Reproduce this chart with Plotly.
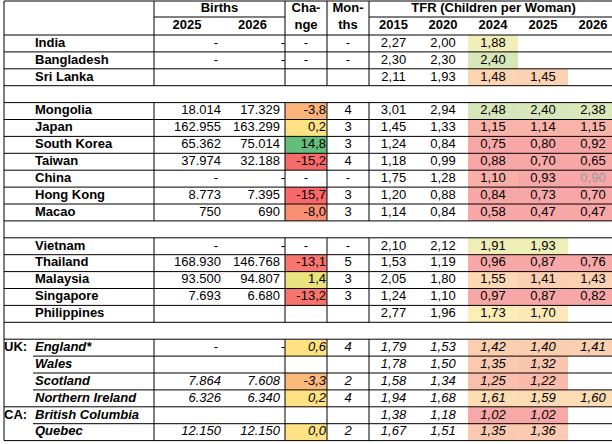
import plotly.graph_objects as go

# Table values (None = empty cell, "-" = dash)
countries = ["India", "Bangladesh", "Sri Lanka", None,
             "Mongolia", "Japan", "South Korea", "Taiwan", "China", "Hong Kong", "Macao", None,
             "Vietnam", "Thailand", "Malaysia", "Singapore", "Philippines", None,
             "England*", "Wales", "Scotland", "Northern Ireland", "British Columbia", "Quebec"]
regions = [None] * 18 + ["UK:", "UK:", "UK:", "UK:", "CA:", "CA:"]

births_2025 = ["-", "-", None, None, 18014, 162955, 65362, 37974, "-", 8773, 750, None,
               "-", 168930, 93500, 7693, None, None, "-", None, 7864, 6326, None, 12150]
births_2026 = ["-", "-", None, None, 17329, 163299, 75014, 32188, "-", 7395, 690, None,
               "-", 146768, 94807, 6680, None, None, "-", None, 7608, 6340, None, 12150]
change = ["-", "-", None, None, -3.8, 0.2, 14.8, -15.2, "-", -15.7, -8.0, None,
          "-", -13.1, 1.4, -13.2, None, None, 0.6, None, -3.3, 0.2, None, 0.0]
months = ["-", "-", None, None, 4, 3, 3, 4, "-", 3, 3, None,
          "-", 5, 3, 3, None, None, 4, None, 2, 4, None, 2]

tfr_years = ["2015", "2020", "2024", "2025", "2026"]
tfr_2015 = [2.27, 2.30, 2.11, None, 3.01, 1.45, 1.24, 1.18, 1.75, 1.20, 1.14, None,
            2.10, 1.53, 2.05, 1.24, 2.77, None, 1.79, 1.78, 1.58, 1.94, 1.38, 1.67]
tfr_2020 = [2.00, 2.30, 1.93, None, 2.94, 1.33, 0.84, 0.99, 1.28, 0.88, 0.84, None,
            2.12, 1.19, 1.80, 1.10, 1.96, None, 1.53, 1.50, 1.34, 1.68, 1.18, 1.51]
tfr_2024 = [1.88, 2.40, 1.48, None, 2.48, 1.15, 0.75, 0.88, 1.10, 0.84, 0.58, None,
            1.91, 0.96, 1.55, 0.97, 1.73, None, 1.42, 1.35, 1.25, 1.61, 1.02, 1.35]
tfr_2025 = [None, None, 1.45, None, 2.40, 1.14, 0.80, 0.70, 0.93, 0.73, 0.47, None,
            1.93, 0.87, 1.41, 0.87, 1.70, None, 1.40, 1.32, 1.22, 1.59, 1.02, 1.36]
tfr_2026 = [None, None, None, None, 2.38, 1.15, 0.92, 0.65, 0.90, 0.70, 0.47, None,
            None, 0.76, 1.43, 0.82, None, None, 1.41, None, None, 1.60, None, None]
grey_2026 = ["China"]

# ---- sheet geometry (pixels) ----
W, H = 612, 444
LEFT, TOP, HEAD_MID, HEAD_BOT = 4, 1, 17, 35
ROW_H = 16.9
X_NAME, X_REGION, X_SUB = 37, 6, 33
C_BIRTHS, C_B_MID, C_CHANGE, C_MONTHS, C_TFR = 154, 220, 285, 327, 369
TFR_EDGES = [369, 418, 468, 518, 568, 618]

n = len(countries)
edges = [HEAD_BOT + ROW_H * k for k in range(n + 1)]
mids = [(edges[k] + edges[k + 1]) / 2 for k in range(n)]
FONT = "Liberation Sans, Arial, sans-serif"


def num(v):
    return v if isinstance(v, (int, float)) else None


def it(s, k):
    return f"<i>{s}</i>" if regions[k] else s


fig = go.Figure()

# conditional-format fills
change_scale = [[0, "#F8696B"], [0.25, "#F98E72"], [0.39, "#FAB47A"], [0.515, "#FEE283"],
                [0.535, "#FFE383"], [0.56, "#E8E37F"], [1, "#63BE7B"]]
fig.add_trace(go.Heatmap(
    x=[C_CHANGE, C_MONTHS], y=edges, z=[[num(v)] for v in change],
    colorscale=change_scale, zmin=-15.7, zmax=14.8, showscale=False, hoverinfo="skip"))

tfr_scale = [[0, "#F8A7A7"], [0.1, "#F9B3A9"], [0.28, "#FBCFB1"], [0.42, "#FCDDB4"],
             [0.52, "#FDF0B8"], [0.62, "#EFEEB7"], [1, "#D6E6B9"]]
fig.add_trace(go.Heatmap(
    x=TFR_EDGES[2:], y=edges, z=[[a, b, c] for a, b, c in zip(tfr_2024, tfr_2025, tfr_2026)],
    colorscale=tfr_scale, zmin=1.0, zmax=2.45, showscale=False, hoverinfo="skip"))


def add_text(xs, ys, texts, pos, color="black"):
    fig.add_trace(go.Scatter(x=xs, y=ys, text=texts, mode="text", textposition=pos,
                             textfont=dict(family=FONT, size=13, color=color),
                             hoverinfo="skip", showlegend=False))


# header
add_text([(C_BIRTHS + C_CHANGE) / 2, (C_CHANGE + C_MONTHS) / 2, (C_MONTHS + C_TFR) / 2,
          (TFR_EDGES[0] + TFR_EDGES[-1]) / 2],
         [9, 9, 9, 9], ["<b>Births</b>", "<b>Cha-</b>", "<b>Mon-</b>", "<b>TFR (Children per Woman)</b>"],
         "middle center")
hx = [(C_BIRTHS + C_B_MID) / 2, (C_B_MID + C_CHANGE) / 2, (C_CHANGE + C_MONTHS) / 2,
      (C_MONTHS + C_TFR) / 2] + [(TFR_EDGES[i] + TFR_EDGES[i + 1]) / 2 for i in range(5)]
add_text(hx, [26] * len(hx), ["<b>2025</b>", "<b>2026</b>", "<b>nge</b>", "<b>ths</b>"]
         + [f"<b>{y}</b>" for y in tfr_years], "middle center")

# first column
rows = [k for k in range(n) if countries[k]]
add_text([X_NAME - 2] * len(rows), [mids[k] for k in rows],
         [it(f"<b>{countries[k]}</b>", k) for k in rows], "middle right")
first = [k for k in rows if regions[k] and (k == 0 or regions[k - 1] != regions[k])]
add_text([X_REGION - 2] * len(first), [mids[k] for k in first],
         [f"<b>{regions[k]}</b>" for k in first], "middle right")

# births
for vals, right, dash_x in [(births_2025, 221, 216), (births_2026, 280, 283)]:
    ks = [k for k in range(n) if isinstance(vals[k], int)]
    add_text([right] * len(ks), [mids[k] for k in ks],
             [it(f"{vals[k]:,}".replace(",", "."), k) for k in ks], "middle left")
    ds = [k for k in range(n) if vals[k] == "-"]
    add_text([dash_x] * len(ds), [mids[k] for k in ds], ["-"] * len(ds), "middle center")

# change and months
ks = [k for k in range(n) if num(change[k]) is not None]
add_text([326] * len(ks), [mids[k] for k in ks],
         [it(f"{change[k]:.1f}".replace(".", ","), k) for k in ks], "middle left")
ds = [k for k in range(n) if change[k] == "-"]
add_text([(C_CHANGE + C_MONTHS) / 2] * len(ds), [mids[k] for k in ds], ["-"] * len(ds), "middle center")
ks = [k for k in range(n) if months[k] is not None]
add_text([(C_MONTHS + C_TFR) / 2] * len(ks), [mids[k] for k in ks],
         [it(str(months[k]), k) for k in ks], "middle center")

# TFR
for i, vals in enumerate([tfr_2015, tfr_2020, tfr_2024, tfr_2025, tfr_2026]):
    ks = [k for k in range(n) if vals[k] is not None]
    cx = (TFR_EDGES[i] + TFR_EDGES[i + 1]) / 2
    colors = ["#999999" if (i == 4 and countries[k] in grey_2026) else "black" for k in ks]
    add_text([cx] * len(ks), [mids[k] for k in ks],
             [it(f"{vals[k]:.2f}".replace(".", ","), k) for k in ks], "middle center", colors)

# grid lines
shapes = []


def seg(x0, y0, x1, y1):
    shapes.append(dict(type="line", x0=x0, y0=y0, x1=x1, y1=y1, xref="x", yref="y",
                       line=dict(color="black", width=1)))


seg(LEFT, TOP, W, TOP)
seg(LEFT, TOP, LEFT, edges[-1])
seg(C_BIRTHS, HEAD_MID, C_CHANGE, HEAD_MID)
seg(C_TFR, HEAD_MID, W, HEAD_MID)
for x in [C_BIRTHS, C_CHANGE, C_MONTHS, C_TFR]:
    seg(x, TOP, x, HEAD_BOT)
for k in range(n + 1):
    inner = 0 < k < n and regions[k] and regions[k - 1] == regions[k]
    seg(X_SUB if inner else LEFT, edges[k], W, edges[k])
for k in range(n):
    if countries[k]:
        for x in [C_BIRTHS, C_CHANGE, C_MONTHS, C_TFR]:
            seg(x, edges[k], x, edges[k + 1])

fig.update_layout(
    width=W, height=H, margin=dict(l=0, r=0, t=0, b=0),
    plot_bgcolor="white", paper_bgcolor="white", showlegend=False,
    shapes=shapes,
    xaxis=dict(range=[0, W], visible=False, fixedrange=True),
    yaxis=dict(range=[H, 0], visible=False, fixedrange=True),
)

# page margin off so the sheet sits at the window's corner
fig.write_html("out.html", config={"displayModeBar": False},
               post_script="document.body.style.margin='0';document.body.style.overflow='hidden';")
